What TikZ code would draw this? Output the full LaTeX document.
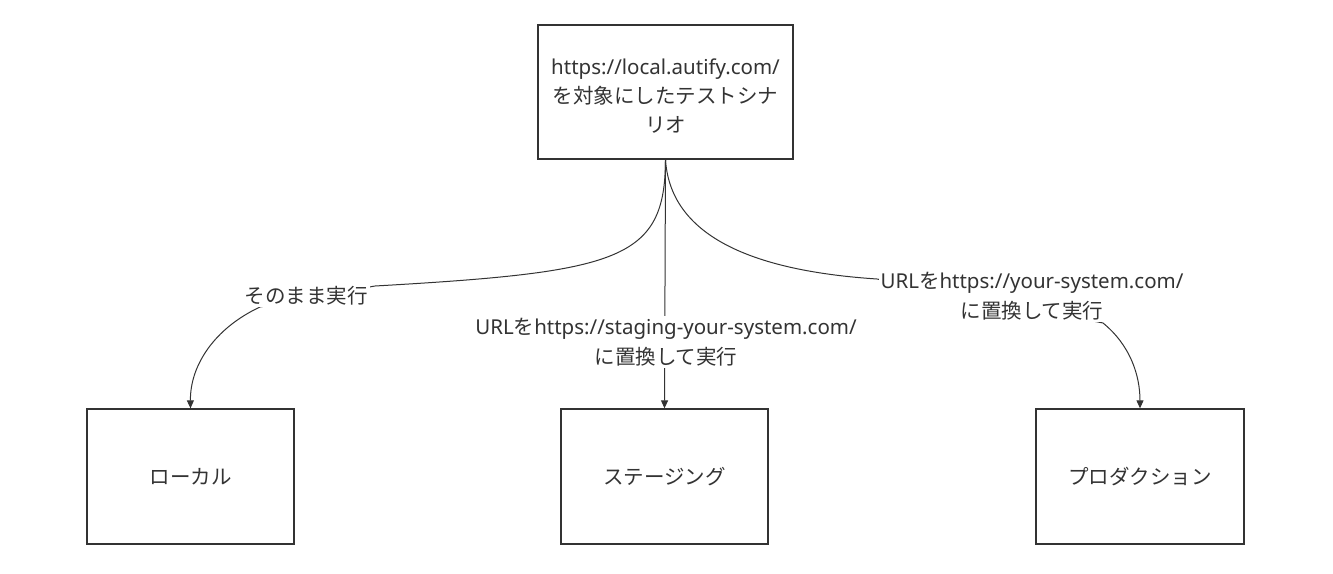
\documentclass[tikz,border=0pt]{standalone}
\usepackage{fontspec}
\setmainfont{Noto Sans}
\newfontfamily\cjk{Noto Sans CJK JP}
\usetikzlibrary{arrows.meta}
\definecolor{ink}{HTML}{333333}
\tikzset{
  box/.style={draw=ink, line width=1.3pt, fill=white, text=ink, align=center, inner sep=0pt},
  lbl/.style={fill=white, text=ink, align=center, inner sep=2pt, font=\fontsize{20.5}{30}\selectfont},
  edge/.style={draw=ink, line width=1pt, -{Triangle[length=8pt,width=7pt]}},
}
\begin{document}
\begin{tikzpicture}[x=1pt, y=-1pt]
\useasboundingbox (0,0) rectangle (1333,573);
\node[box, minimum width=255pt, minimum height=134pt] (top) at (665.5,92) {};
\node[text=ink, align=center, inner sep=0pt, font=\fontsize{20.5}{29}\selectfont] (toptext) at (665.5,96)
  {https://local.autify.com/\\{\cjk を対象にしたテストシナ}\\{\cjk リオ}};
\node[box, minimum width=207pt, minimum height=135pt, font=\fontsize{20.5}{28}\selectfont\cjk] (local) at (190.5,476.5) {ローカル};
\node[box, minimum width=207pt, minimum height=135pt, font=\fontsize{20.5}{28}\selectfont\cjk] (stg) at (664.5,476.5) {ステージング};
\node[box, minimum width=208pt, minimum height=135pt, font=\fontsize{20.5}{28}\selectfont\cjk] (prod) at (1140,476.5) {プロダクション};

\draw[edge] (top.south) .. controls (665,260) and (620,272) .. (375,286)
  -- (260,307) .. controls (215,328) and (190,365) .. (local.north);
\draw[edge] (top.south) -- (stg.north);
\draw[edge] (top.south) .. controls (670,230) and (740,270) .. (877,279)
  -- (1103,323) .. controls (1130,345) and (1140,375) .. (prod.north);

\node[lbl] (l1) at (306,296) {\cjk そのまま実行};
\node[lbl] (l2) at (666,342) {URL{\cjk を}https://staging-your-system.com/\\{\cjk に置換して実行}};
\node[lbl] (l3) at (1032,296) {URL{\cjk を}https://your-system.com/\\{\cjk に置換して実行}};
\end{tikzpicture}
\end{document}
